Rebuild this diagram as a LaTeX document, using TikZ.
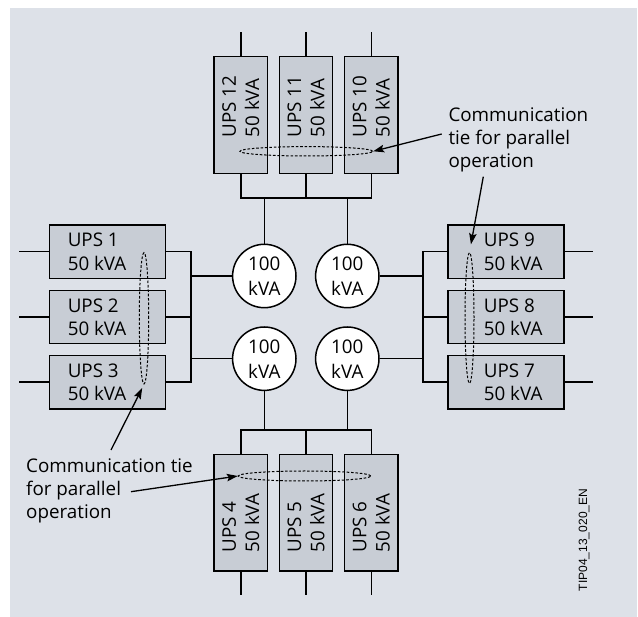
\documentclass[tikz,border=0pt]{standalone}
\usepackage{fontspec}
\setmainfont{Open Sans}
\newfontfamily\tipfont{Liberation Sans}
\usetikzlibrary{shapes.geometric,arrows.meta}
\definecolor{bgcol}{HTML}{DDE1E8}
\definecolor{boxcol}{HTML}{C8CDD5}
\begin{document}
\begin{tikzpicture}[x=1pt,y=-1pt,
  wire/.style={line width=1.6pt},
  hbox/.style={draw, line width=1.5pt, fill=boxcol, minimum width=116pt, minimum height=53.3pt, inner sep=0pt},
  vbox/.style={draw, line width=1.5pt, fill=boxcol, minimum width=53.3pt, minimum height=116.7pt, inner sep=0pt},
  lbl/.style={font=\fontsize{18.8}{23.2}\selectfont, inner sep=0pt, align=left},
  kva/.style={circle, draw, line width=1.5pt, fill=white, minimum size=63.4pt, inner sep=0pt, font=\fontsize{18.8}{25}\selectfont, align=center},
  tie/.style={ellipse, draw, dash pattern=on 2.6pt off 1.8pt, line width=1pt, inner sep=0pt},
  pointer/.style={line width=1.3pt, -{Stealth[length=11pt,width=7.5pt,inset=2pt]}}
]
\useasboundingbox (0,0) rectangle (638,617);
\fill[bgcol] (10,8) rectangle (637,617);

% bus coordinates
\coordinate (tb) at (306,198);
\coordinate (bb) at (306,430);
\coordinate (lb) at (190.7,317);
\coordinate (rb) at (422.7,317);

% UPS boxes
\node[vbox] (t12) at (240.7,115) {};
\node[vbox] (t11) at (306,115) {};
\node[vbox] (t10) at (371.3,115) {};
\node[vbox] (b4) at (240.7,512.7) {};
\node[vbox] (b5) at (306,512.7) {};
\node[vbox] (b6) at (371.3,512.7) {};
\node[hbox] (l1) at (107.3,251.7) {};
\node[hbox] (l2) at (107.3,317) {};
\node[hbox] (l3) at (107.3,382.3) {};
\node[hbox] (r9) at (505.8,251.7) {};
\node[hbox] (r8) at (505.8,317) {};
\node[hbox] (r7) at (505.8,382.3) {};

% box texts
\node[lbl, rotate=90, anchor=west] (t12t) at ([yshift=36.6pt]t12.south) {UPS 12\\50 kVA};
\node[lbl, rotate=90, anchor=west] (t11t) at ([yshift=36.6pt]t11.south) {UPS 11\\50 kVA};
\node[lbl, rotate=90, anchor=west] (t10t) at ([yshift=36.6pt]t10.south) {UPS 10\\50 kVA};
\node[lbl, rotate=90, anchor=west] (b4t) at ([yshift=19.3pt]b4.south) {UPS 4\\50 kVA};
\node[lbl, rotate=90, anchor=west] (b5t) at ([yshift=19.3pt]b5.south) {UPS 5\\50 kVA};
\node[lbl, rotate=90, anchor=west] (b6t) at ([yshift=19.3pt]b6.south) {UPS 6\\50 kVA};
\node[lbl, anchor=west] (l1t) at ([xshift=19pt]l1.west) {UPS 1\\50 kVA};
\node[lbl, anchor=west] (l2t) at ([xshift=19pt]l2.west) {UPS 2\\50 kVA};
\node[lbl, anchor=west] (l3t) at ([xshift=19pt]l3.west) {UPS 3\\50 kVA};
\node[lbl, anchor=west] (r9t) at ([xshift=36.6pt]r9.west) {UPS 9\\50 kVA};
\node[lbl, anchor=west] (r8t) at ([xshift=36.6pt]r8.west) {UPS 8\\50 kVA};
\node[lbl, anchor=west] (r7t) at ([xshift=36.6pt]r7.west) {UPS 7\\50 kVA};

% 100 kVA circles
\node[kva] (c1) at (264.3,276) {100\\kVA};
\node[kva] (c2) at (347.3,276) {100\\kVA};
\node[kva] (c3) at (264.3,358.7) {100\\kVA};
\node[kva] (c4) at (347.3,358.7) {100\\kVA};

% outer leads
\foreach \n in {t12,t11,t10} \draw[wire] (\n.north) -- ++(0,-23.7);
\foreach \n in {b4,b5,b6} \draw[wire] (\n.south) -- ++(0,23);
\foreach \n in {l1,l2,l3} \draw[wire] (\n.west) -- ++(-29.3,0);
\foreach \n in {r9,r8,r7} \draw[wire] (\n.east) -- ++(28.7,0);

% top bus
\draw[wire] (t12.south) -- (t12.south |- tb) -- (t10.south |- tb) -- (t10.south);
\draw[wire] (t11.south) -- (t11.south |- tb);
\draw[wire] (c1.north) -- (c1.north |- tb);
\draw[wire] (c2.north) -- (c2.north |- tb);
% bottom bus
\draw[wire] (b4.north) -- (b4.north |- bb) -- (b6.north |- bb) -- (b6.north);
\draw[wire] (b5.north) -- (b5.north |- bb);
\draw[wire] (c3.south) -- (c3.south |- bb);
\draw[wire] (c4.south) -- (c4.south |- bb);
% left bus
\draw[wire] (l1.east) -- (l1.east -| lb) -- (l3.east -| lb) -- (l3.east);
\draw[wire] (l2.east) -- (l2.east -| lb);
\draw[wire] (c1.west) -- (c1.west -| lb);
\draw[wire] (c3.west) -- (c3.west -| lb);
% right bus
\draw[wire] (r9.west) -- (r9.west -| rb) -- (r7.west -| rb) -- (r7.west);
\draw[wire] (r8.west) -- (r8.west -| rb);
\draw[wire] (c2.east) -- (c2.east -| rb);
\draw[wire] (c4.east) -- (c4.east -| rb);

% communication ties
\node[tie, minimum width=132.7pt, minimum height=9.4pt] (eT) at (306.3,151.3) {};
\node[tie, minimum width=132.4pt, minimum height=10pt] (eB) at (304.5,476) {};
\node[tie, minimum width=9.4pt, minimum height=131.3pt] (eL) at (144,318.3) {};
\node[tie, minimum width=9pt, minimum height=130.6pt] (eR) at (469.5,318) {};

% labels
\node[lbl, anchor=north west] (tr) at (448.3,107.5) {Communication\\tie for parallel\\operation};
\node[lbl, anchor=north west] (bl) at (26,458.5) {Communication tie\\for parallel\\operation};

\coordinate (a1) at (441.7,134);
\coordinate (a2) at (483.3,176.7);
\coordinate (a3) at (111,450);
\coordinate (a4) at (131,491.7);
\draw[pointer] (a1) -- (eT.east);
\draw[pointer, shorten >=8pt] (a2) -- (eR.north);
\draw[pointer, shorten >=4pt] (a3) -- (eL.south);
\draw[pointer] (a4) -- (eB.west);

\node[font=\tipfont\fontsize{12}{14}\selectfont, rotate=90, inner sep=0pt] (tip) at (584,540) {TIP04\_13\_020\_EN};
\end{tikzpicture}
\end{document}
